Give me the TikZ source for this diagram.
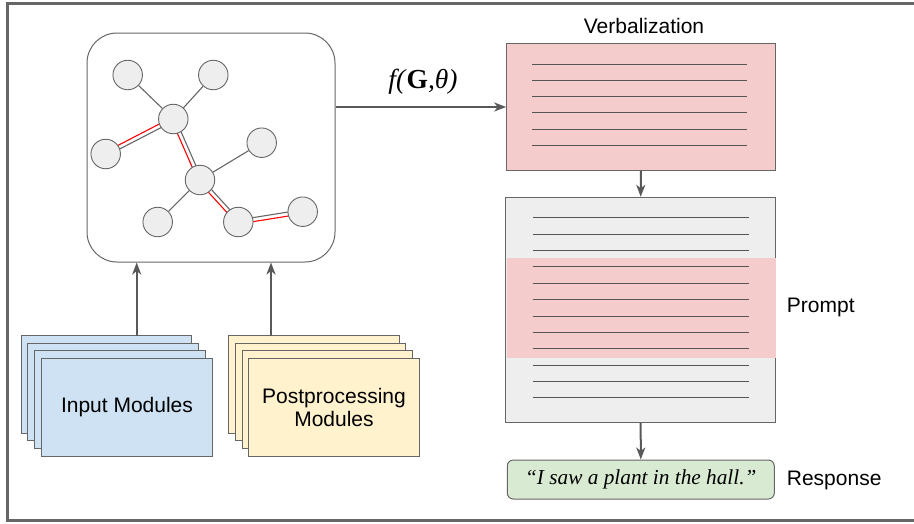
\documentclass[tikz,border=0pt]{standalone}
\usepackage{fontspec}
\setmainfont{Liberation Sans}
\newfontfamily\serifit{Liberation Serif}
\usetikzlibrary{arrows.meta,calc,positioning,backgrounds}

\definecolor{framegray}{HTML}{666666}
\definecolor{linegray}{HTML}{666666}
\definecolor{arrgray}{HTML}{595959}
\definecolor{textgray}{HTML}{555555}
\definecolor{nodegray}{HTML}{EEEEEE}
\definecolor{verbpink}{HTML}{F4CCCC}
\definecolor{promptgray}{HTML}{EEEEEE}
\definecolor{respgreen}{HTML}{D9EAD3}
\definecolor{inblue}{HTML}{CFE2F3}
\definecolor{ppyellow}{HTML}{FFF2CC}

\tikzset{
  frame/.style={draw=framegray, line width=3pt},
  gbox/.style={draw=linegray, line width=1pt, rounded corners=30pt,
    minimum width=248pt, minimum height=229pt, inner sep=0pt},
  gnode/.style={circle, draw=linegray, fill=nodegray, line width=0.9pt,
    minimum size=29.5pt, inner sep=0pt},
  edge/.style={draw=linegray, line width=1.1pt},
  hledge/.style={draw=red, line width=1.1pt},
  arr/.style={draw=arrgray, line width=2pt, -{Stealth[length=12pt,width=9pt,inset=3.5pt]}},
  lbl/.style={font=\fontsize{21}{25}\selectfont, inner sep=0pt},
  txtline/.style={draw=textgray, line width=1pt},
  verbbox/.style={draw=linegray, fill=verbpink, line width=1pt,
    minimum width=268.3pt, minimum height=127.4pt, inner sep=0pt},
  promptbox/.style={draw=linegray, fill=promptgray, line width=1pt,
    minimum width=270pt, minimum height=225pt, inner sep=0pt},
  respbox/.style={draw=linegray, fill=respgreen, line width=1pt, rounded corners=6pt,
    minimum width=267pt, minimum height=39pt, inner sep=0pt,
    font=\serifit\itshape\fontsize{21.3}{25}\selectfont},
  modbox/.style={draw=linegray, line width=1pt, minimum width=170.7pt,
    minimum height=97.7pt, inner sep=0pt, font=\fontsize{21}{23}\selectfont}
}

\begin{document}
\begin{tikzpicture}[x=1pt,y=-1pt]
    \useasboundingbox (0,0) rectangle (914,523);

    % Outer frame
    \draw[frame] (914,3.5) -| (7.5,520) -- (914,520);

    % Graph box and its vertices
    \node[gbox] (graph) at (211,147.5) {};
    \foreach \n/\x/\y in {g1/127.7/75, g2/213.3/75, g3/173.3/119, g4/105.7/154,
        g5/261.7/142.7, g6/200/180, g7/157.7/222, g8/238.3/222, g9/302.7/211.7}
        \node[gnode] (\n) at (\x,\y) {};

    % Edges, the highlighted path gets a red twin line
    \begin{scope}[on background layer]
        \foreach \a/\b in {g1/g3, g2/g3, g5/g6, g6/g7}
            \draw[edge] (\a) -- (\b);
        \foreach \a/\b in {g3/g4, g3/g6, g6/g8, g8/g9} {
            \draw[edge] ($(\a)!2pt!90:(\b)$) -- ($(\b)!2pt!-90:(\a)$);
            \draw[hledge] ($(\a)!2pt!-90:(\b)$) -- ($(\b)!2pt!90:(\a)$);
        }
    \end{scope}

    % Verbalization
    \node[verbbox] (verb) at (640.85,107) {};
    \node[lbl] (verbtitle) at (644,26) {Verbalization};
    \foreach \k in {0,...,5}
        \draw[txtline] (531.7,{64+16.25*\k}) -- (747.3,{64+16.25*\k});
    \draw[arr] (graph.east |- verb.west) -- (verb.west);
    \node[font=\serifit\itshape\fontsize{27.5}{32}\selectfont, inner sep=0pt] (fgt) at (423,82)
        {f(\textup{\textbf{G}},θ)};

    % Prompt
    \node[promptbox] (prompt) at (640.7,309.8) {};
    \fill[verbpink] (506.5,258.3) rectangle (776.2,358.3);
    \foreach \k in {0,...,11}
        \draw[txtline] (532.7,{217.7+16.39*\k}) -- (748.7,{217.7+16.39*\k});
    \draw[arr] (verb.south) -- (prompt.north);
    \node[lbl, anchor=west] (promptlbl) at (786.7,307.3) {Prompt};

    % Response
    \node[respbox] (resp) at (640.8,479.5) {“I saw a plant in the hall.”};
    \draw[arr] (prompt.south) -- (resp.north);
    \node[lbl, anchor=west] (resplbl) at (786.7,480) {Response};

    % Module stacks
    \foreach \i in {0,1,2} {
        \node[modbox, fill=inblue] (in\i) at ({106.35+6.88*\i},{384.55+7.53*\i}) {};
        \node[modbox, fill=ppyellow] (pp\i) at ({313.65+6.88*\i},{384.55+7.53*\i}) {};
    }
    \node[modbox, fill=inblue] (in3) at (127,407.15) {Input Modules};
    \node[modbox, fill=ppyellow, align=center] (pp3) at (334,407.15) {Postprocessing\\Modules};

    % Arrows into the graph box
    \coordinate (inarr) at (136.7,336);
    \coordinate (pparr) at (271,336);
    \draw[arr] (inarr) -- (inarr |- graph.south);
    \draw[arr] (pparr) -- (pparr |- graph.south);
\end{tikzpicture}
\end{document}
